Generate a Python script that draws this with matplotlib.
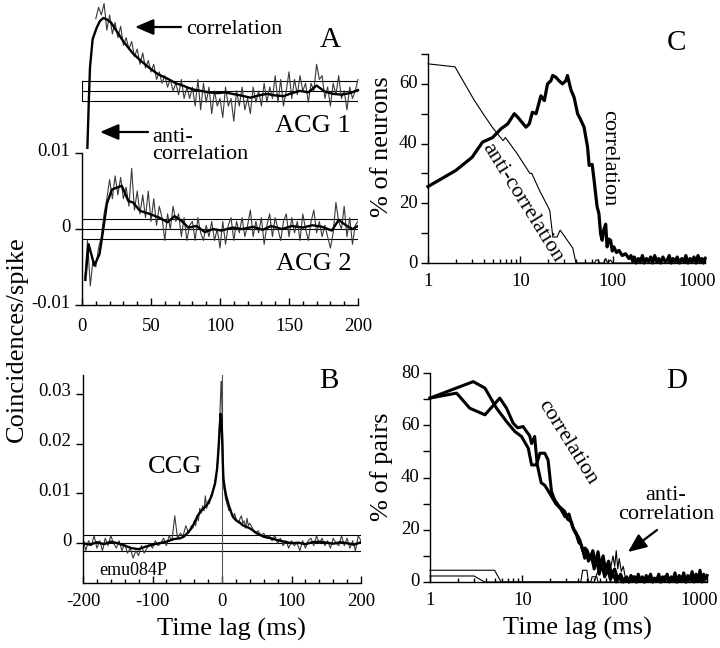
import numpy as np
import matplotlib
matplotlib.use("Agg")
import matplotlib.pyplot as plt
import matplotlib.transforms as mtransforms
from matplotlib.patches import FancyArrowPatch
from matplotlib.ticker import FixedLocator, NullFormatter, LogLocator

plt.rcParams["font.family"] = ["Liberation Serif", "DejaVu Serif"]
plt.rcParams["font.size"] = 14
plt.rcParams["xtick.labelsize"] = 13.5
plt.rcParams["ytick.labelsize"] = 13.5
plt.rcParams["axes.unicode_minus"] = False

# ---- Panel A: auto-correlograms (values in 1e-3 coincidences/spike) --------
ACG1_OFFSET = 18.2          # ACG 1 is drawn stacked above ACG 2
acg1_raw_lag = np.arange(10, 201, 2)
acg1_raw = [9.5, 11, 10, 11.5, 8, 10, 7.5, 9, 7, 8.5,
            6, 7, 5.5, 6.5, 4.5, 5.5, 3.5, 5, 3, 4,
            2.5, 3.5, 1.5, 2.5, 1, 2, 0.5, 1.5, 0, 1,
            -0.5, 1.5, -1, 0.5, -1, 0.5, -2, 1.5, -2.5, 1,
            -1.5, 0.5, -3, 0, -2, -1, -3.5, 0.5, -2, -1,
            -4, 0, -2, 0.5, -2.5, -1, -3, 0.5, -1.5, 0,
            -2, 1, -1.5, 0.5, -1, 2, -1.5, 1.5, -2, 0,
            2.5, -1, 1.5, -0.5, 2, 0, 1, -1.5, 1, 0,
            3.5, 1.5, 2, -1, 0.5, -2, 1, -0.5, 2, -1,
            0, -2.5, 0.5, -1, 0, 1.5]
acg1_lag = [3.9, 5, 5.8, 7.7, 10.6, 13, 15.5, 18, 21, 25, 30, 37, 43, 49, 55,
            62, 68, 73, 80, 86, 92, 98, 104, 109, 115, 122, 128, 134, 140, 146,
            152, 158, 164, 170, 176, 182, 188, 194, 200]
acg1_smooth = [-7.5, -1, 3.1, 6.8, 8.3, 9.2, 9.6, 9.4, 9.0, 7.9, 6.5, 4.9, 3.9,
               3.0, 2.2, 1.6, 1.0, 0.7, 0.2, 0, -0.2, -0.3, -0.2, -0.4, -0.6,
               -0.9, -0.6, -0.4, -0.6, -0.7, -0.3, 0, -0.2, 0.7, -0.1, -0.4,
               -0.5, -0.3, 0.1]

acg2_raw_lag = np.arange(2, 201, 2)
acg2_raw = [-6.5, -1.5, -7.5, -4, -5, -2.5, -1, 2, 4, 6.5,
            4, 7, 4.5, 6.8, 4, 5.5, 3, 8, 2.5, 5,
            2, 4.5, 1.5, 5, 1, 4, 0.5, 3, 1.5, -1.5,
            2, 0, 3, 1, 2, -1, 1.5, -1.5, 0.5, 1,
            -1.5, 1.5, -0.5, -1.5, 0.5, -1, 1, -1.5, 0, -2.5,
            1, -2, 0.5, 1.5, -1.5, 1, -0.5, 1.5, -1, 0.5,
            2.5, -1, 1, -0.5, 1.5, -2, 0.5, 2, -1, 1.5,
            0, -1.5, 1, 2, -1, 1.5, -0.5, 1, -1.5, 2,
            0, -1.5, 1, 2.5, -0.5, 1, -1, 0.5, -1, -2.5,
            -0.5, 3.5, 1, 0, 3, -1, 1.5, -2, 0.5, 1]
acg2_lag = [2.4, 4.8, 8.9, 12.7, 15.6, 18, 21.6, 28.8, 33.6, 37, 42, 49, 56,
            62, 67, 72, 77, 83, 89, 95, 101, 109, 116, 124, 131, 137, 145,
            152, 160, 167, 174, 181, 186, 192, 196, 200]
acg2_smooth = [-6.7, -2, -4.8, -3.3, 0.2, 3.3, 5.2, 5.7, 3.7, 3.5, 2.4, 2.0,
               1.5, 0.9, 1.7, 1.1, 0.2, 0.4, -0.4, 0, -0.2, 0.2, 0, 0.3, -0.1,
               0.4, 0, 0.4, 0.2, 0.5, 0.3, -0.2, 1.2, 0.4, 0, 0.4]
acg_band = 1.3

# ---- Panel B: cross-correlogram ---------------------------------------------
ccg_raw_lag = np.concatenate([np.arange(-200, -43, 4), np.arange(-42, -9, 2),
                              np.arange(-9, 10, 1), np.arange(10, 41, 2),
                              np.arange(44, 201, 4)])
ccg_raw = [1, -1.5, 0.5, -0.5, 1.5, -1, 0.5, -1.5, 1, -0.5,
           1.5, 0, -1, 0.5, -1.5, 0, -2, -1, -3, -1.5,
           -2.5, -0.5, -2, -1, 0, -1, 0.5, -0.5, 0, 1,
           -0.5, 1.5, 0.5, 5.5, 1, 2, 1.5, 3.5, 2, 3.5,
           3, 4.5, 3.5, 5.5, 4.5, 7, 6, 7.5, 6.5, 9.5, 7, 8.5, 8, 9.5, 10, 11, 12.5,
           13, 14, 15.5, 17, 19.5, 22, 26, 30, 32.5, 27, 20, 14, 11, 10, 9, 8.5,
           8, 7.5, 7,
           6.5, 7, 6, 5, 6, 5, 4.5, 4, 5, 5.5, 4, 4.5, 3, 5, 3.5, 4,
           3, 2, 2.5, 1.5, 2, 1, 1.5, 0.5, 1.5, 0,
           1, -0.5, 0.5, -1, 0.5, -0.5, 0, -1.5, 0.5, -1,
           0.5, 1, -0.5, 1.5, 0, 1, -0.5, 0.5, -1, 1,
           0, -0.5, 1.5, -0.5, 1, -1, 0.5, -1.5, 1.5, 0.5]
ccg_lag = [-200, -190, -180, -170, -160, -150, -140, -130, -120, -110, -100,
           -90, -80, -70, -60, -55, -50, -45, -40, -35, -30, -25, -20, -15,
           -10, -7, -5, -3, -2, -1, 0, 1, 2, 4, 6, 10, 15, 20, 25, 30, 40, 50,
           60, 70, 80, 90, 100, 110, 120, 130, 140, 150, 160, 170, 180, 190, 200]
ccg_smooth = [0, -0.3, 0.2, -0.2, 0.3, 0, -0.5, -1, -1.2, -0.7, -0.3, 0, 0.3,
              0.8, 1, 1.3, 2, 2.8, 4, 5.5, 6.5, 7.2, 8, 9.5, 12, 15, 19, 24,
              26, 25, 22, 17, 13, 11, 9.5, 7.5, 5.5, 4.6, 4.2, 3.6, 3.0, 2.0,
              1.3, 1.0, 0.6, 0.3, 0, 0.1, -0.2, 0.2, 0.3, 0.1, -0.1, 0.2, 0,
              -0.3, 0.2]
ccg_band = 1.55

# ---- Panel C: % of neurons vs time lag ---------------------------------------
c_corr_x = [1, 2, 3, 3.9, 5, 6.2, 7.3, 8.6, 9.4, 11.5, 12.5, 13.5, 14.8, 16.7,
            18.2, 19.7, 21.4, 22.4, 24.3, 26.3, 28.6, 31, 32.4, 35.3, 38.2,
            41.7, 45, 49, 53.5, 55.6, 60, 63, 66, 68, 71, 74, 77, 80, 84, 87,
            91, 95, 99, 103, 110, 117, 127, 138,
            150, 158, 165, 172, 180, 190, 200, 210, 220, 232, 245, 258, 270,
            285, 300, 315, 330, 350, 370, 390, 410, 430, 450, 475, 500, 530,
            560, 590, 620, 655, 690, 725, 760, 800, 840, 880, 920, 960, 1000]
c_corr_y = [25.6, 31, 35.4, 40.5, 42, 45, 46.6, 50, 48.8, 45.5, 46.6, 50.5, 50,
            56, 54.4, 60, 61, 62.8, 62.2, 61, 60, 61, 62.8, 58, 55.5, 50, 48,
            45.5, 38.8, 32.7, 33, 27.6, 22, 18.7, 16.5, 9.8, 7.6, 11, 13, 5.4,
            8, 7.6, 4, 5.4, 3.5, 4.2, 2.5, 3.1,
            1.5, 2.5, 0.5, 2, 0, 1.5, 0.5, 2.5, 0, 1.5, 0.5, 2, 0, 2.5, 0.5,
            1.5, 0, 2, 0.5, 1, 2.5, 0, 1.5, 0.5, 2, 0, 1.5, 0.5, 2.5, 0, 1.5,
            0.5, 2, 0, 2.5, 0.5, 1.5, 0, 1.5]
c_anti_x = [1, 1.96, 3.1, 3.95, 5.1, 6.5, 6.9, 9.2, 12.7, 13.3, 16.3, 20.8,
            22.5, 25, 27, 30, 37, 40, 64, 66, 70, 72, 80, 84, 88, 95, 100, 1000]
c_anti_y = [66.7, 65.7, 55, 50, 45, 41, 42, 36.7, 30, 30, 24, 17.7, 8.7, 8.7,
            11, 9, 5, 0, 0, 1, 1, 0, 0, 1.5, 0, 1, 0, 0]

# ---- Panel D: % of pairs vs time lag -----------------------------------------
d_corr1_x = [1, 2.94, 3.94, 5.26, 6.75, 8.3, 9.8, 11.6, 12.6, 14.2, 15.5, 17.5,
             19, 20.7, 22.4, 25, 28.8, 31, 34, 36, 38.6, 41, 43.7, 46, 47.4, 50,
             54, 58, 62, 66, 70, 75, 80, 86, 92, 100, 108, 116, 125,
             135, 143, 150, 158, 165, 172, 180, 190, 200, 210, 220, 232, 245,
             258, 270, 285, 300, 315, 330, 350, 370, 390, 410, 430, 450, 475,
             500, 530, 560, 590, 620, 655, 690, 725, 760, 800, 840, 880, 920,
             960, 1000]
d_corr1_y = [70.4, 76.7, 74.2, 66.5, 61.4, 57.6, 55.7, 51.2, 44.8, 44.8, 49.3,
             49.3, 46.7, 34.6, 31.4, 29, 27, 24, 23, 20, 18, 15, 14.2, 11, 9.1,
             12.3, 9, 12, 7, 11.6, 6, 10, 4, 8, 3, 5, 1, 3, 0,
             2, 0, 2.5, 0.5, 2, 0, 3, 0.5, 2, 0, 2.5, 0.5, 3, 0, 1.5, 0.5, 3,
             0, 2, 0.5, 3, 0, 2, 1, 3.5, 0, 2.5, 0.5, 3.5, 0, 2.5, 1, 4, 0.5,
             3, 1, 4.5, 0.5, 3, 1, 2.5]
d_corr2_x = [1, 1.94, 2.7, 3.94, 5.7, 6.75, 7.95, 8.9, 10.2, 11.1, 12.0, 12.6,
             13.6, 14.5, 16, 17.5, 19, 20.5, 23, 26, 29, 32, 35, 38, 42, 45, 48,
             52, 56, 60, 64, 68, 72, 78, 84, 90, 96, 104, 112, 120, 130, 142,
             158, 172, 190, 210, 235, 260, 285, 315, 350, 390, 430, 470, 530,
             590, 650, 720, 800, 880, 960]
d_corr2_y = [70.4, 72.3, 66.5, 64, 70.4, 66.5, 60.8, 59, 59.5, 57.6, 56, 53,
             55.7, 45, 38, 37, 35, 33, 30, 28, 25, 26, 21, 19, 16, 12, 13, 8,
             10, 5, 9, 3, 7, 2, 5, 1, 3, 0, 2, 0, 1.5, 0, 2, 0, 1, 0, 2, 0,
             1.5, 0, 2, 0.5, 1, 0, 2, 0, 1.5, 0, 1, 0, 2]
d_anti1_x = [1, 5, 5.9, 43, 45, 50, 52, 60, 64, 70, 76, 84, 90, 96, 100, 104,
             108, 112, 118, 124, 130, 140, 1000]
d_anti1_y = [4.5, 4.5, 0, 0, 4.5, 4.5, 0, 0, 3, 6, 4, 8, 5, 10, 6, 12, 5, 9, 4,
             6, 2, 0, 0]
d_anti2_x = [1, 3, 3.9, 55, 57, 64, 66, 1000]
d_anti2_y = [2.3, 2.3, 0, 0, 2, 2, 0, 0]

# ---- layout helpers (pixel positions on a 720 x 648 canvas) ------------------
W, H = 720, 648


def box(l, t, r, b):
    return [l / W, 1 - b / H, (r - l) / W, (b - t) / H]


def fxy(x, y):
    return x / W, 1 - y / H


def shift(lbl, dx, dy):
    off = mtransforms.ScaledTranslation(dx / 100, dy / 100, fig.dpi_scale_trans)
    lbl.set_transform(lbl.get_transform() + off)


def style(ax, xpad, ypad=3.0, lift=4):
    for s in ("top", "right"):
        ax.spines[s].set_visible(False)
    for s in ("left", "bottom"):
        ax.spines[s].set_linewidth(1.0)
    ax.tick_params(axis="x", which="both", direction="in", pad=xpad, width=1.0)
    ax.tick_params(axis="x", which="major", length=5)
    ax.tick_params(axis="x", which="minor", length=3)
    ax.tick_params(axis="y", which="both", direction="out", length=5,
                   pad=ypad, width=1.0)
    # tick labels on the y axis sit slightly above their ticks
    for lbl in ax.get_yticklabels():
        shift(lbl, 0, lift)


fig = plt.figure(figsize=(7.2, 6.48), dpi=100)
THIN = dict(color="#3a3a3a", lw=0.8)
REF = dict(color="black", lw=0.8)

# ---- A -----------------------------------------------------------------------
axA = fig.add_axes(box(82, 2, 358, 305))
for v in (-acg_band, 0, acg_band):
    axA.plot([0, 200], [v, v], **REF)
    axA.plot([0, 200], [ACG1_OFFSET + v, ACG1_OFFSET + v], **REF)
for xx in (0, 200):
    axA.plot([xx, xx], [ACG1_OFFSET - acg_band, ACG1_OFFSET + acg_band], **REF)
axA.plot(acg2_raw_lag, acg2_raw, **THIN)
axA.plot(acg2_lag, acg2_smooth, color="black", lw=1.7)
axA.plot(acg1_raw_lag, np.array(acg1_raw) + ACG1_OFFSET, clip_on=False, **THIN)
axA.plot(acg1_lag, np.array(acg1_smooth) + ACG1_OFFSET, color="black", lw=1.7,
         clip_on=False)
axA.set_xlim(0, 200)
axA.set_ylim(-10, 29.9)
axA.spines["left"].set_bounds(-10, 10)
axA.set_xticks([0, 50, 100, 150, 200])
axA.xaxis.set_minor_locator(FixedLocator(np.arange(0, 201, 10)))
axA.set_yticks([-10, 0, 10], ["-0.01", "0", "0.01"])
style(axA, xpad=9.5, ypad=3.5)

# ---- B -----------------------------------------------------------------------
axB = fig.add_axes(box(83, 375, 361, 583))
for v in (-ccg_band, 0, ccg_band):
    axB.plot([-200, 200], [v, v], **REF)
axB.plot([0, 0], [-8, 33.8], color="#555555", lw=0.8)
axB.plot(ccg_raw_lag, ccg_raw, **THIN)
axB.plot(ccg_lag, ccg_smooth, color="black", lw=1.7)
axB.set_xlim(-200, 200)
axB.set_ylim(-8, 33.8)
axB.set_xticks([-200, -100, 0, 100, 200])
axB.xaxis.set_minor_locator(FixedLocator(np.arange(-200, 201, 20)))
axB.set_yticks([0, 10, 20, 30], ["0", "0.01", "0.02", "0.03"])
style(axB, xpad=7, ypad=3.5)

# ---- C -----------------------------------------------------------------------
axC = fig.add_axes(box(428, 54, 705, 263))
axC.plot(c_anti_x, c_anti_y, color="black", lw=0.8, clip_on=False)
axC.plot(c_corr_x, c_corr_y, color="black", lw=2.3, clip_on=False)
axC.set_xscale("log")
axC.set_xlim(1, 1000)
axC.set_ylim(0, 70)
axC.set_xticks([1, 10, 100, 1000], ["1", "10", "100", "1000"])
axC.xaxis.set_minor_locator(LogLocator(subs=np.arange(2, 10)))
axC.xaxis.set_minor_formatter(NullFormatter())
axC.set_yticks([0, 20, 40, 60])
axC.yaxis.set_minor_locator(FixedLocator([10, 30, 50, 70]))
style(axC, xpad=7.5, ypad=2.5, lift=2)
shift(axC.get_xticklabels()[-1], -8, 0)

# ---- D -----------------------------------------------------------------------
axD = fig.add_axes(box(430, 373, 707, 582))
axD.plot(d_anti2_x, d_anti2_y, color="black", lw=0.8, clip_on=False)
axD.plot(d_anti1_x, d_anti1_y, color="black", lw=0.8, clip_on=False)
axD.plot(d_corr2_x, d_corr2_y, color="black", lw=2.2, clip_on=False)
axD.plot(d_corr1_x, d_corr1_y, color="black", lw=2.2, clip_on=False)
axD.set_xscale("log")
axD.set_xlim(1, 1000)
axD.set_ylim(0, 80)
axD.set_xticks([1, 10, 100, 1000], ["1", "10", "100", "1000"])
axD.xaxis.set_minor_locator(LogLocator(subs=np.arange(2, 10)))
axD.xaxis.set_minor_formatter(NullFormatter())
axD.set_yticks([0, 20, 40, 60, 80])
axD.yaxis.set_minor_locator(FixedLocator([10, 30, 50, 70]))
style(axD, xpad=7.5, ypad=2.5, lift=2)
shift(axD.get_xticklabels()[-1], -8, 0)

# ---- texts -------------------------------------------------------------------
def label(x, y, s, size, **kw):
    kw.setdefault("ha", "left")
    kw.setdefault("va", "baseline")
    fig.text(*fxy(x, y), s, fontsize=size, **kw)


def arrow(tail, head):
    fig.add_artist(FancyArrowPatch(fxy(*tail), fxy(*head),
                                   transform=fig.transFigure,
                                   arrowstyle="-|>,head_length=0.7,head_width=0.3",
                                   color="black", lw=1.6, mutation_scale=16,
                                   shrinkA=0, shrinkB=0))


for s, x, y in (("A", 330, 47), ("B", 329, 388), ("C", 677, 50), ("D", 677, 388)):
    label(x, y, s, 21, ha="center")

label(186, 34, "correlation", 16)
arrow((181, 27), (135, 27))
label(152, 146, "anti-\ncorrelation", 16, va="center", linespacing=0.8)
arrow((148, 132), (100, 132))
label(313, 132, "ACG 1", 19, ha="center")
label(314, 270, "ACG 2", 19, ha="center")
label(175, 473, "CCG", 19, ha="center")
label(99, 575, "emu084P", 13)
label(231, 636, "Time lag (ms)", 19, ha="center")
label(577, 635, "Time lag (ms)", 19, ha="center")
label(17, 339, "Coincidences/spike", 19, ha="center", va="center", rotation=90)
label(382, 147, "% of neurons", 19, ha="center", va="center", rotation=90)
label(382, 467, "% of pairs", 19, ha="center", va="center", rotation=90)

label(609, 158, "correlation", 16, ha="center", va="center", rotation=-90)
label(522, 203, "anti-correlation", 16, ha="center", va="center", rotation=-58,
      rotation_mode="anchor")
label(567, 442, "correlation", 16, ha="center", va="center", rotation=-58,
      rotation_mode="anchor")
label(666, 505, "anti-\ncorrelation", 16, ha="center", va="center",
      linespacing=0.95)
arrow((657, 530), (628, 552))

fig.savefig("out.png", dpi=100)
